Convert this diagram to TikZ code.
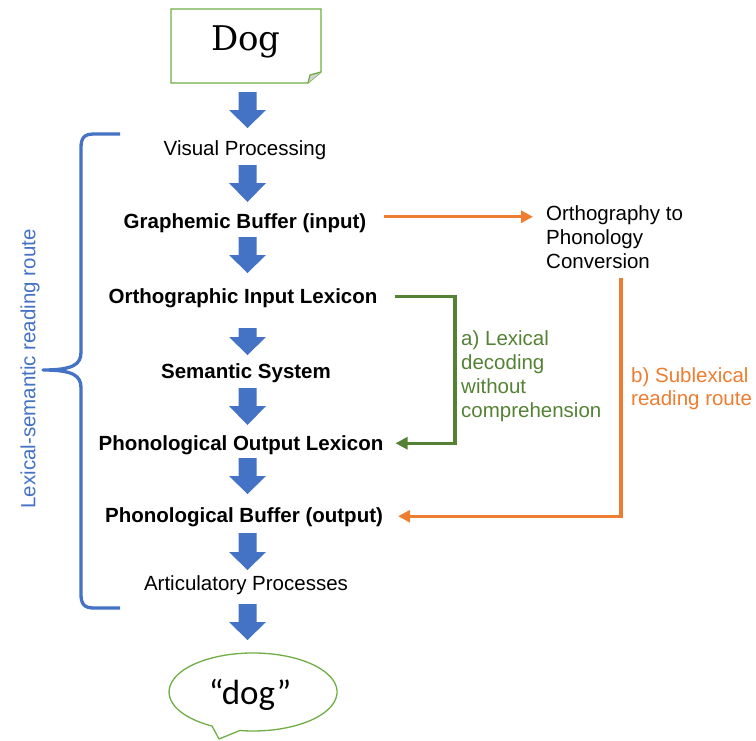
\documentclass[tikz,border=0pt]{standalone}
\usepackage{fontspec}
\setmainfont{Liberation Sans}
\newfontfamily\dogfont{DejaVu Serif}
\newfontfamily\speechfont{Carlito}
\usetikzlibrary{arrows.meta}
\definecolor{flowblue}{HTML}{4472C4}
\definecolor{boxgreen}{HTML}{70AD47}
\definecolor{routegreen}{HTML}{548235}
\definecolor{routeorange}{HTML}{ED7D31}
% block arrow pointing down: x centre, top, start of head, tip
\newcommand\flowarrow[4]{%
  \fill[flowblue] (#1-9,#2) -- (#1+9,#2) -- (#1+9,#3) -- (#1+18.5,#3)
    -- (#1,#4) -- (#1-18.5,#3) -- (#1-9,#3) -- cycle;}
\begin{document}
\begin{tikzpicture}[x=1pt,y=-1pt,
  lbl/.style={font=\fontsize{20.5}{24}\selectfont, inner sep=0pt,
    text height=15pt, text depth=4.5pt, anchor=base},
  stage/.style={lbl, font=\fontsize{20.5}{24}\selectfont\bfseries},
  note/.style={font=\fontsize{20.5}{24}\selectfont, inner sep=0pt,
    align=left, anchor=north west},
  route/.style={line width=3.3pt, -{Triangle[length=12pt,width=12pt]}}]
\useasboundingbox (0,0) rectangle (756,740);

% input card with folded corner
\draw[boxgreen, line width=1.3pt, fill=white]
  (171,9) -- (321,9) -- (321,72) -- (308,83) -- (171,83) -- cycle;
\draw[boxgreen, line width=1.3pt, fill=gray!35, line join=round]
  (321,72) -- (310,75) -- (308,83);
\node[font=\dogfont\fontsize{34}{40}\selectfont, anchor=base, inner sep=0pt]
  (dog) at (246,50) {Dog};

% processing stages
\node[lbl]   (vp)  at (245,155) {Visual Processing};
\node[stage] (gb)  at (245,228) {Graphemic Buffer (input)};
\node[stage] (oil) at (243,303) {Orthographic Input Lexicon};
\node[stage] (ss)  at (246,378) {Semantic System};
\node[stage] (pol) at (241,450) {Phonological Output Lexicon};
\node[stage] (pb)  at (244,522) {Phonological Buffer (output)};
\node[lbl]   (ap)  at (246,590) {Articulatory Processes};

% flow arrows between stages
\flowarrow{247.5}{92}{110}{128}
\flowarrow{247.5}{165}{183}{202}
\flowarrow{247.5}{237}{255}{273}
\flowarrow{247.5}{328}{337}{355}
\flowarrow{247.5}{388}{406}{425}
\flowarrow{247.5}{458}{476}{494}
\flowarrow{247.5}{533}{552}{570}
\flowarrow{247.5}{604}{622}{640}

% spoken output bubble
\draw[boxgreen, line width=1.3pt, fill=white, line join=round]
  (239.9,730.5) arc[start angle=99, end angle=-240.8, x radius=84, y radius=39]
  -- (219,739) -- cycle;
\node[font=\speechfont\fontsize{35}{40}\selectfont, anchor=base, inner sep=0pt]
  (said) at (250,704) {“dog”};

% sublexical conversion
\node[note] (opc) at (546,205) {Orthography to\\Phonology\\Conversion};
\coordinate (opcIn) at ([xshift=-13pt]opc.west);
\coordinate (oStart) at ([xshift=18pt,yshift=6pt]gb.east);
\draw[route, routeorange] (oStart) -- (oStart -| opcIn);

% route a) lexical decoding without comprehension
\coordinate (gBend) at (455,370);
\draw[route, routegreen] ([xshift=17pt,yshift=1.5pt]oil.east) -| (gBend)
  |- ([xshift=12pt,yshift=1.5pt]pol.east);
\node[note, text=routegreen, font=\fontsize{20.5}{24.3}\selectfont]
  (alabel) at (461,330) {a) Lexical\\decoding\\without\\comprehension};

% route b) sublexical reading route
\coordinate (oBend) at (621,278);
\draw[route, routeorange] (oBend) |- ([xshift=15pt,yshift=0.5pt]pb.east);
\node[note, text=routeorange, font=\fontsize{20.5}{23}\selectfont]
  (blabel) at (631,367) {b) Sublexical\\reading route};

% lexical-semantic brace
\draw[flowblue, line width=3.3pt, line join=round]
  (120,134) -- (94,134) .. controls (84,134) and (81,138) .. (81,148)
  -- (81,352) .. controls (81,364) and (74,370) .. (43,370)
  .. controls (74,370) and (81,376) .. (81,388)
  -- (81,594) .. controls (81,604) and (84,608) .. (94,608) -- (120,608);
\node[font=\fontsize{20.5}{24}\selectfont, text=flowblue, rotate=90, inner sep=0pt]
  (lsr) at (30,369) {Lexical-semantic reading route};
\end{tikzpicture}
\end{document}
